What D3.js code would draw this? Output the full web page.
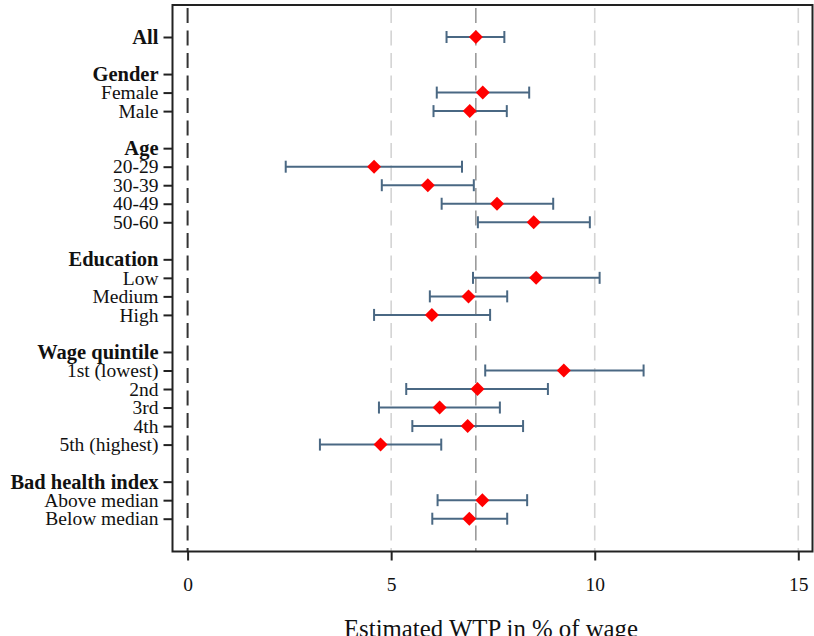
<!DOCTYPE html>
<html><head><meta charset="utf-8">
<script src="https://cdn.jsdelivr.net/npm/d3@7"></script>
<style>body{margin:0;background:#fff}svg{display:block}text{font-family:"Liberation Serif","Times New Roman",serif;fill:#111}</style>
</head><body><svg id="c" width="814" height="636"></svg>
<script>
// Rows (top to bottom); header rows have no estimate
const labels = ["All","","Gender","Female","Male","","Age","20-29","30-39","40-49","50-60","","Education","Low","Medium","High","","Wage quintile","1st (lowest)","2nd","3rd","4th","5th (highest)","","Bad health index","Above median","Below median"];
const boldLabels = ["All","Gender","Age","Education","Wage quintile","Bad health index"];
const estimates = [7.08,null,null,7.25,6.93,null,null,4.58,5.90,7.60,8.50,null,null,8.56,6.90,6.00,null,null,9.24,7.12,6.19,6.88,4.74,null,null,7.24,6.92];
const ciLow =     [6.36,null,null,6.12,6.04,null,null,2.41,4.77,6.24,7.13,null,null,7.01,5.95,4.58,null,null,7.31,5.37,4.70,5.52,3.25,null,null,6.14,6.01];
const ciHigh =    [7.78,null,null,8.39,7.84,null,null,6.74,7.03,8.98,9.88,null,null,10.12,7.85,7.43,null,null,11.20,8.85,7.67,8.24,6.23,null,null,8.34,7.85];
const xTicks = [0,5,10,15];
const meanLine = 7.08;
const xTitle = "Estimated WTP in % of wage";

const svg = d3.select("#c");
const L = 172.5, R = 812.5, T = 5, B = 551.5;
const x = d3.scaleLinear().domain([0,15]).range([187.6,798.3]);
const y = d3.scaleLinear().domain([0,26]).range([37,518.7]);

// gridlines
const g = svg.append("g");
g.selectAll(".grid").data([5,10,15]).join("line")
  .attr("x1",d=>x(d)).attr("x2",d=>x(d)).attr("y1",T+3).attr("y2",B)
  .attr("stroke","#d4d4d4").attr("stroke-width",1.6).attr("stroke-dasharray","15,7.5");
g.append("line").attr("x1",x(meanLine)).attr("x2",x(meanLine)).attr("y1",T+3).attr("y2",B)
  .attr("stroke","#8c8c8c").attr("stroke-width",1.4).attr("stroke-dasharray","15,7.5");
g.append("line").attr("x1",x(0)).attr("x2",x(0)).attr("y1",T+3).attr("y2",B)
  .attr("stroke","#333").attr("stroke-width",2).attr("stroke-dasharray","15,7.5");

// frame
svg.append("rect").attr("x",L).attr("y",T).attr("width",R-L).attr("height",B-T)
  .attr("fill","none").attr("stroke","#222").attr("stroke-width",2);

// y axis
const rows = labels.map((l,i)=>({l,i})).filter(d=>d.l!=="");
const yAxis = d3.axisLeft(y).tickValues(rows.map(d=>d.i)).tickSize(9).tickPadding(5)
  .tickFormat(i=>labels[i]);
const ya = svg.append("g").attr("transform",`translate(${L},0)`).call(yAxis);
ya.select(".domain").remove();
ya.selectAll(".tick line").attr("stroke","#222").attr("stroke-width",2);
ya.selectAll(".tick text").attr("fill","#111")
  .attr("font-family","Liberation Serif")
  .attr("font-size",i=>boldLabels.includes(labels[i])?"20.5px":"19.5px")
  .attr("font-weight",i=>boldLabels.includes(labels[i])?"bold":"normal");

// x axis
const xAxis = d3.axisBottom(x).tickValues(xTicks).tickSize(9).tickPadding(17).tickFormat(d3.format("d"));
const xa = svg.append("g").attr("transform",`translate(0,${B})`).call(xAxis);
xa.select(".domain").remove();
xa.selectAll(".tick line").attr("stroke","#222").attr("stroke-width",2);
xa.selectAll(".tick text").attr("font-size","19.5px").attr("fill","#111").attr("font-family","Liberation Serif");

svg.append("text").attr("x",491).attr("y",637).attr("text-anchor","middle")
  .attr("font-size","24.8px").text(xTitle);

// error bars
const pts = estimates.map((e,i)=>({e,lo:ciLow[i],hi:ciHigh[i],i})).filter(d=>d.e!==null);
const eb = svg.append("g").attr("stroke","#4a6883").attr("stroke-width",2);
eb.selectAll(".h").data(pts).join("line")
  .attr("x1",d=>x(d.lo)).attr("x2",d=>x(d.hi)).attr("y1",d=>y(d.i)).attr("y2",d=>y(d.i));
eb.selectAll(".cl").data(pts).join("line")
  .attr("x1",d=>x(d.lo)).attr("x2",d=>x(d.lo)).attr("y1",d=>y(d.i)-6).attr("y2",d=>y(d.i)+6);
eb.selectAll(".ch").data(pts).join("line")
  .attr("x1",d=>x(d.hi)).attr("x2",d=>x(d.hi)).attr("y1",d=>y(d.i)-6).attr("y2",d=>y(d.i)+6);

// diamonds
const s = 7;
svg.append("g").selectAll("path").data(pts).join("path")
  .attr("d",d=>{const cx=x(d.e),cy=y(d.i);return `M${cx},${cy-s}L${cx+s},${cy}L${cx},${cy+s}L${cx-s},${cy}Z`;})
  .attr("fill","#ff0000");
</script></body></html>
